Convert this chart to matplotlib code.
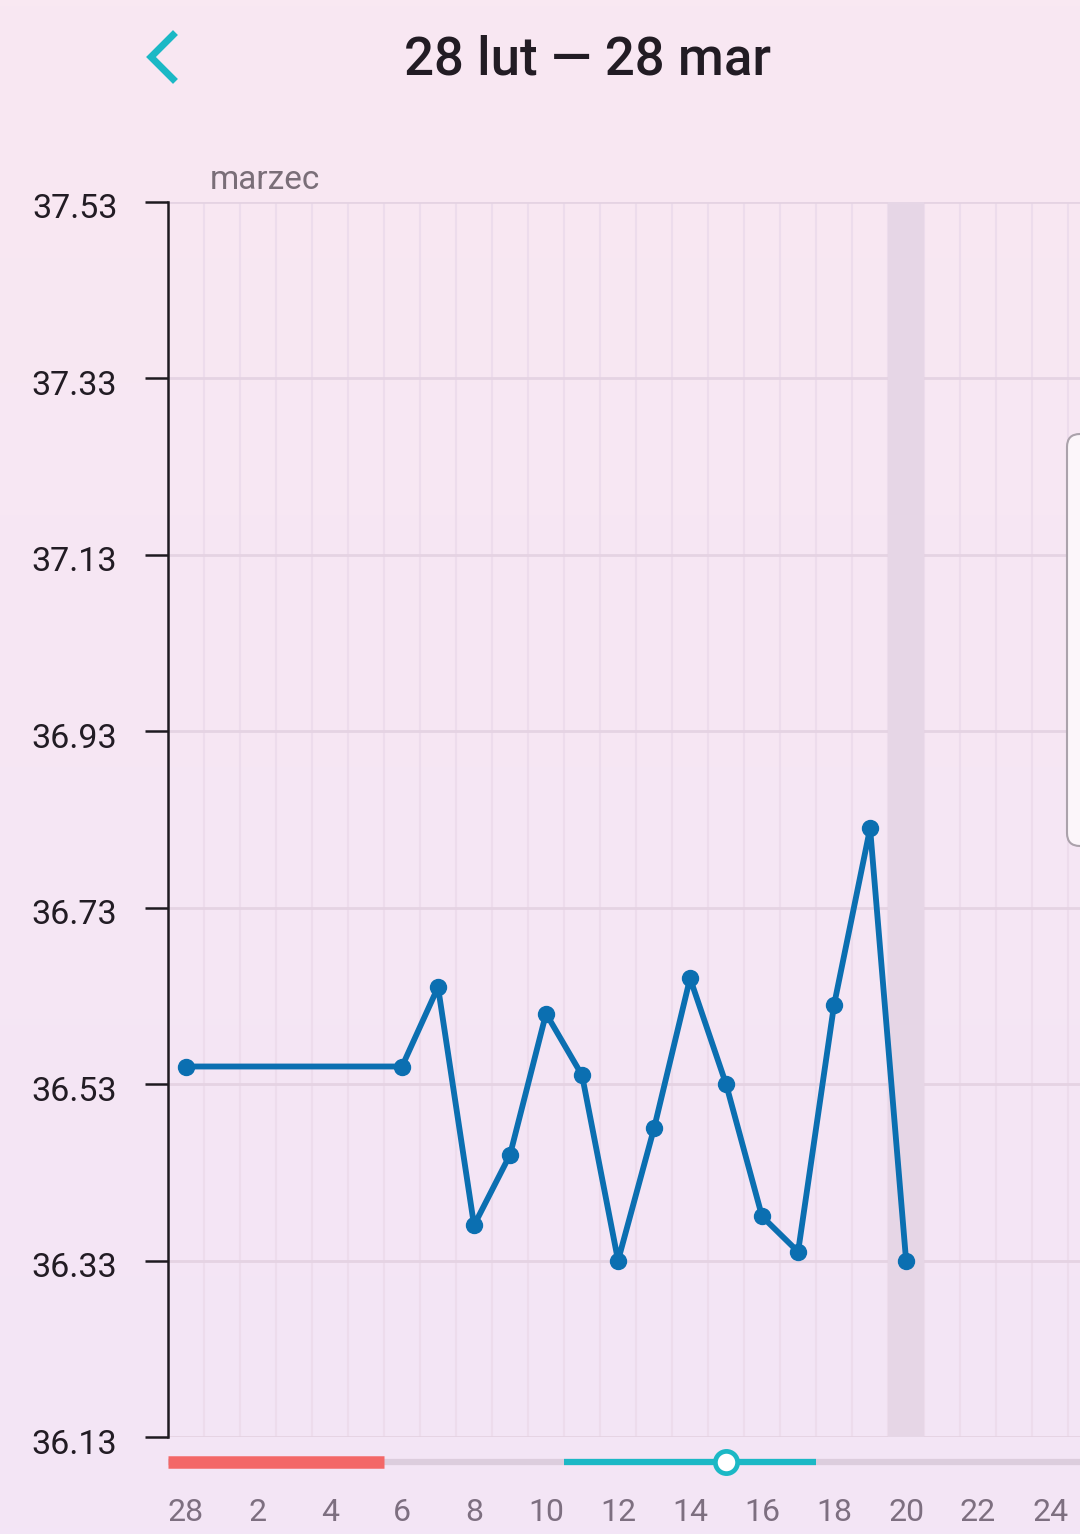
import numpy as np
import matplotlib
matplotlib.use("Agg")
import matplotlib.pyplot as plt
import matplotlib.transforms as mtransforms
from matplotlib.patches import FancyBboxPatch
from matplotlib.lines import Line2D

plt.rcParams['font.family'] = ['Roboto', 'DejaVu Sans']

# day index: 0 = 28 Feb, n = n March
days = [0, 6, 7, 8, 9, 10, 11, 12, 13, 14, 15, 16, 17, 18, 19, 20]
temps = [36.55, 36.55, 36.64, 36.37, 36.45, 36.61, 36.54, 36.33,
         36.48, 36.65, 36.53, 36.38, 36.34, 36.62, 36.82, 36.33]

y_ticks = [36.13, 36.33, 36.53, 36.73, 36.93, 37.13, 37.33, 37.53]
x_ticks = list(range(0, 25, 2))
x_labels = ['28', '2', '4', '6', '8', '10', '12', '14', '16', '18', '20', '22', '24']

period_days = (-0.5, 5.5)    # red bar
fertile_days = (10.5, 17.5)  # teal bar
ovulation_day = 15
today = 20

W, H = 1080, 1534
fig = plt.figure(figsize=(W / 100, H / 100), dpi=100)

# background gradient
bg = fig.add_axes([0, 0, 1, 1], zorder=-10)
top_c = np.array([249, 232, 242]) / 255
bot_c = np.array([243, 229, 246]) / 255
t = np.linspace(0, 1, 256)[:, None]
grad = top_c[None, :] * (1 - t) + bot_c[None, :] * t
bg.imshow(grad[:, None, :].repeat(2, axis=1), aspect='auto', extent=[0, 1, 0, 1])
bg.set_axis_off()

def fx(px):
    return px / W

def fy(py):
    return 1 - py / H

xlim = (-0.5, 24.83)

ax = fig.add_axes([fx(168), fy(1437), 1 - fx(168), fy(202) - fy(1437)])
ax.set_facecolor('none')
ax.set_xlim(*xlim)
ax.set_ylim(36.13, 37.53)

for v in np.arange(0.5, 25, 1):
    ax.axvline(v, color='#EDDCEC', lw=1.5, zorder=0)
for v in y_ticks:
    ax.axhline(v, color='#E5D3E3', lw=2, zorder=0)
ax.axvspan(today - 0.5, today + 0.5, color='#E6D6E6', lw=0, zorder=0.5)

ax.plot(days, temps, color='#0B6FB1', lw=4.2, marker='o', markersize=11.5,
        solid_joinstyle='round', zorder=3)

ax.set_yticks(y_ticks)
ax.set_yticklabels([f'{v:.2f}' for v in y_ticks])
ax.tick_params(axis='y', length=16.5, width=1.8, color='#1E1A20', pad=20,
               labelsize=24.5, labelcolor='#221C24')
shift = mtransforms.ScaledTranslation(0, -4 / 100, fig.dpi_scale_trans)
for lbl in ax.get_yticklabels():
    lbl.set_transform(lbl.get_transform() + shift)
ax.set_xticks([])
for s in ['top', 'right', 'bottom']:
    ax.spines[s].set_visible(False)
ax.spines['left'].set_color('#1E1A20')
ax.spines['left'].set_linewidth(1.8)

ax.text(fx(210), fy(180), 'marzec', transform=fig.transFigure, fontsize=24,
        color='#7A6E78', va='center', ha='left')

# cycle bar below the chart
bar = fig.add_axes([fx(168), fy(1480), 1 - fx(168), fy(1444) - fy(1480)])
bar.set_facecolor('none')
bar.set_xlim(*xlim)
bar.set_ylim(-1, 1)
bar.plot(xlim, [0, 0], color='#DCCDDD', lw=4.5, solid_capstyle='butt')
bar.plot(period_days, [0, 0], color='#F36767', lw=9, solid_capstyle='butt')
bar.plot(fertile_days, [0, 0], color='#1BB8C5', lw=4.5, solid_capstyle='butt')
bar.plot([ovulation_day], [0], marker='o', markersize=16, markerfacecolor='white',
         markeredgecolor='#1BB8C5', markeredgewidth=3.4)
bar.set_yticks([])
bar.set_xticks(x_ticks)
bar.set_xticklabels(x_labels)
bar.tick_params(axis='x', length=0, pad=13, labelsize=23, labelcolor='#7D6F80')
for s in bar.spines.values():
    s.set_visible(False)

# header
fig.text(fx(588), fy(60), '28 lut — 28 mar', fontsize=38, fontweight='medium',
         color='#221C24', ha='center', va='center')
fig.add_artist(Line2D([fx(173), fx(151), fx(173)], [fy(35), fy(57), fy(79)],
                      transform=fig.transFigure, color='#1BB8C5', lw=5,
                      solid_joinstyle='miter'))

# side panel edge
fig.add_artist(FancyBboxPatch((fx(1067), fy(846)), fx(60), fy(434) - fy(846),
                              boxstyle='round,pad=0,rounding_size=0.012',
                              transform=fig.transFigure, facecolor='#FCF6FA',
                              edgecolor='#ABA2AB', lw=1.5, mutation_aspect=W / H))

fig.savefig('out.png', dpi=100)
